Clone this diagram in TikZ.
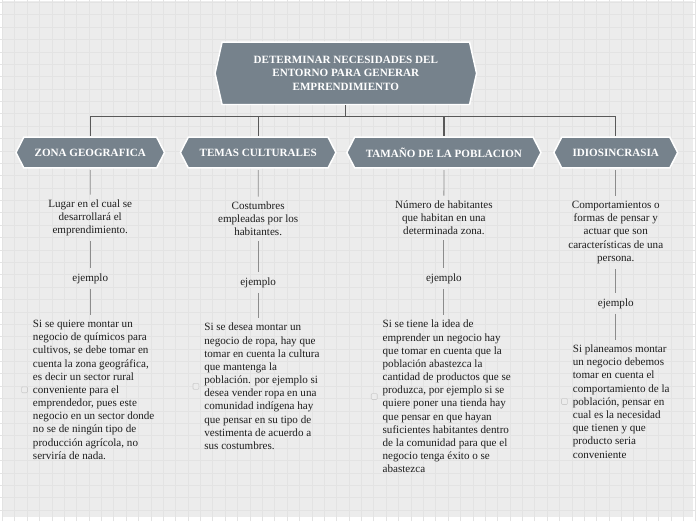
\documentclass[tikz,border=0pt]{standalone}
\usepackage{fontspec}
\setmainfont{Liberation Serif}
\usetikzlibrary{shapes.symbols,positioning}
\definecolor{slate}{RGB}{118,130,140}
\definecolor{paper}{RGB}{236,236,236}
\definecolor{gridl}{RGB}{227,227,227}
\definecolor{ink}{RGB}{30,30,30}
\tikzset{
  hexA/.style={ draw=white, line width=1.5pt, fill=slate, signal, signal to=west and east,
    signal pointer angle=154.7, minimum width=264pt, minimum height=63pt,
    inner sep=0pt, align=center,
    text=white, font=\fontsize{11.2}{14}\selectfont\bfseries }
}
\tikzset{
  hexB/.style={ draw=white, line width=1.5pt, fill=slate, signal, signal to=west and east,
    signal pointer angle=125.6, minimum height=31pt, inner sep=0pt,
    text=white, font=\fontsize{11.2}{14}\selectfont\bfseries }
}
\tikzset{
  txtdef/.style={ text=ink, align=center, inner sep=5pt, font=\fontsize{11.2}{13.3}\selectfont }
}
\tikzset{
  txtlong/.style={ text=ink, align=left, inner sep=5pt, anchor=north west, font=\fontsize{11.2}{13.3}\selectfont }
}
\tikzset{
  chk/.style={ draw=black!20, fill=paper, rounded corners=1pt, line width=0.6pt, minimum size=6pt, inner sep=0pt }
}
\tikzset{
  trunk/.style={ draw=black!65, line width=1.3pt }
}
\tikzset{
  twig/.style={ draw=black!45, line width=0.8pt }
}

\begin{document}
\begin{tikzpicture}[x=1pt, y=-1pt]
      % paper
      \fill[paper] (0,0) rectangle (696,520);
      \draw[gridl, line width=0.6pt, step=12.5pt, xshift=-0.8pt, yshift=-0.8pt] (-2,-2) grid (700,524);
      \useasboundingbox (0,0) rectangle (696,520);

      \node[hexA] (root) at (346,72.5) {DETERMINAR NECESIDADES DEL\\ENTORNO PARA GENERAR\\EMPRENDIMIENTO};

      \node[hexB, minimum width=150pt] (zona) at (88,152.5) {ZONA GEOGRAFICA};
      \node[hexB, minimum width=157pt] (temas) at (257.5,152.5) {TEMAS CULTURALES};
      \node[hexB, minimum width=196pt] (tam) at (445,152.5) {TAMAÑO DE LA POBLACION};
      \node[hexB, minimum width=125pt] (idio) at (618.5,152.5) {IDIOSINCRASIA};

      \foreach \cat in {zona, temas, tam, idio}
        \draw[trunk] (root.south) -- ++(0,11) -| (\cat.north);

      % zona geografica
      \node[txtdef, anchor=north] (zonaD) at (88,195) {Lugar en el cual se\\desarrollará el\\emprendimiento.};
      \node[txtdef, anchor=north] (zonaE) at (88,269.5) {ejemplo};
      \node[txtlong] (zonaL) at (25,316.5) {Si se quiere montar un\\negocio de químicos para\\cultivos, se debe tomar en\\cuenta la zona geográfica,\\es decir un sector rural\\conveniente para el\\emprendedor, pues este\\negocio en un sector donde\\no se de ningún tipo de\\producción agrícola, no\\serviría de nada.};
      \node[chk, left=0pt of zonaL] (zonaK) {};

      % temas culturales
      \node[txtdef, anchor=north] (temasD) at (257.5,197) {Costumbres\\empleadas por los\\habitantes.};
      \node[txtdef, anchor=north] (temasE) at (257.5,273.5) {ejemplo};
      \node[txtlong] (temasL) at (198,319.5) {Si se desea montar un\\negocio de ropa, hay que\\tomar en cuenta la cultura\\que mantenga la\\población. por ejemplo si\\desea vender ropa en una\\comunidad indígena hay\\que pensar en su tipo de\\vestimenta de acuerdo a\\sus costumbres.};
      \node[chk, left=0pt of temasL] (temasK) {};

      % tamano de la poblacion
      \node[txtdef, anchor=north] (tamD) at (445,196) {Número de habitantes\\que habitan en una\\determinada zona.};
      \node[txtdef, anchor=north] (tamE) at (445,269.5) {ejemplo};
      \node[txtlong] (tamL) at (378,316.5) {Si se tiene la idea de\\emprender un negocio hay\\que tomar en cuenta que la\\población abastezca la\\cantidad de productos que se\\produzca, por ejemplo si se\\quiere poner una tienda hay\\que pensar en que hayan\\suficientes habitantes dentro\\de la comunidad para que el\\negocio tenga éxito o se\\abastezca};
      \node[chk, left=0pt of tamL] (tamK) {};

      % idiosincrasia
      \node[txtdef, anchor=north] (idioD) at (618.5,196.5) {Comportamientos o\\formas de pensar y\\actuar que son\\características de una\\persona.};
      \node[txtdef, anchor=north] (idioE) at (618.5,294.5) {ejemplo};
      \node[txtlong] (idioL) at (570,341.5) {Si planeamos montar\\un negocio debemos\\tomar en cuenta el\\comportamiento de la\\población, pensar en\\cual es la necesidad\\que tienen y que\\producto seria\\conveniente};
      \node[chk, left=0pt of idioL] (idioK) {};

      \foreach \cat in {zona, temas, tam, idio} {
        \draw[twig, shorten <=1.5pt] (\cat) -- (\cat D);
        \draw[twig] (\cat D) -- (\cat E);
        \draw[twig] (\cat E) -- (\cat E |- \cat L.north);
      }
    \end{tikzpicture}
\end{document}
